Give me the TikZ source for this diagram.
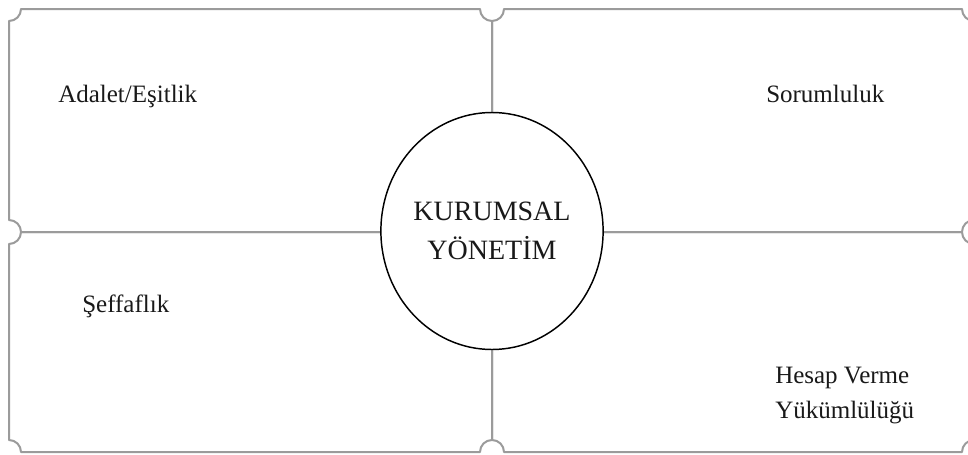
\documentclass[tikz,border=0pt]{standalone}
\usepackage{fontspec}
\setmainfont{Liberation Serif}
\usetikzlibrary{shapes.geometric}
\definecolor{frame}{RGB}{155,155,155}
\definecolor{ink}{RGB}{25,25,25}
\tikzset{
  quad/.style={draw=frame, line width=1.5pt, line join=round},
  lbl/.style={anchor=base west, inner sep=0pt, text=ink, font=\fontsize{18.75}{25}\selectfont},
  core/.style={ellipse, draw=black, line width=1.1pt, fill=white, minimum width=150pt, minimum height=177.75pt, inner sep=0pt, align=center, text=ink, font=\fontsize{21}{29.25}\selectfont}
}
\newcommand\quadbox[4]{%
  \draw[quad] (#1+12,#2) -- (#3-12,#2) arc[start angle=180,end angle=90,radius=12]
    -- (#3,#4-12) arc[start angle=270,end angle=180,radius=12]
    -- (#1+12,#4) arc[start angle=0,end angle=-90,radius=12]
    -- (#1,#2+12) arc[start angle=90,end angle=0,radius=12] -- cycle;}
\begin{document}
\begin{tikzpicture}[x=0.75pt,y=-0.75pt]
\useasboundingbox (0,0) rectangle (968,454);
\quadbox{9}{9}{492}{232}
\quadbox{492}{9}{974}{232}
\quadbox{9}{232}{492}{452}
\quadbox{492}{232}{974}{452}
\node[core] (ky) at (492,231) {KURUMSAL\\YÖNETİM};
\node[lbl] (ad) at (58,102) {Adalet/Eşitlik};
\node[lbl] (so) at (766,102) {Sorumluluk};
\node[lbl] (se) at (82,312) {Şeffaflık};
\node[lbl] (hv) at (775,383) {Hesap Verme};
\node[lbl] (yu) at (775,418) {Yükümlülüğü};
\end{tikzpicture}
\end{document}
